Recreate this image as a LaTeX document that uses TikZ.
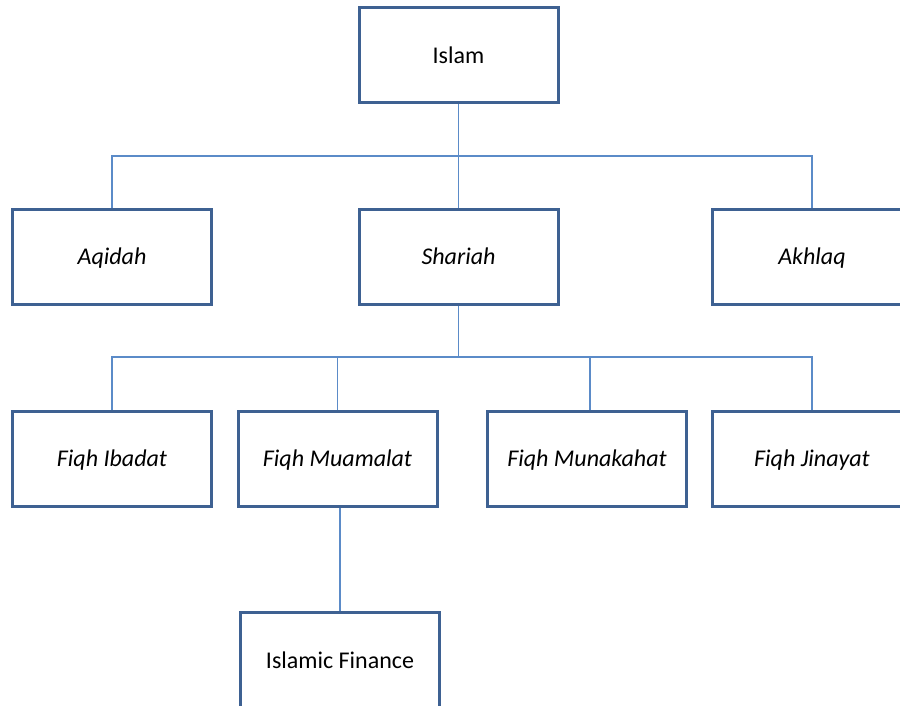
\documentclass[tikz,border=0pt]{standalone}
\usepackage{fontspec}
\setmainfont{Carlito}
\usetikzlibrary{backgrounds}
\definecolor{boxblue}{HTML}{3E6192}
\definecolor{linkblue}{HTML}{5B8BC8}
\tikzset{
  orgbox/.style={draw=boxblue, line width=3pt, rectangle, minimum width=199pt, minimum height=95pt, inner sep=0pt, font=\fontsize{24}{28}\selectfont, text height=21pt, text depth=5pt, fill=white},
  link/.style={draw=linkblue, line width=1.2pt}
}
\begin{document}
\begin{tikzpicture}[x=1pt,y=-1pt]
\useasboundingbox (0,0) rectangle (900,706);
\clip (0,0) rectangle (900,706);
\node[orgbox] (islam) at (458.5,55.5) {Islam};
\node[orgbox] (aqidah) at (112,256.5) {\itshape Aqidah};
\node[orgbox] (shariah) at (458.5,256.5) {\itshape Shariah};
\node[orgbox] (akhlaq) at (812,256.5) {\itshape Akhlaq};
\node[orgbox] (ibadat) at (112,458.5) {\itshape Fiqh Ibadat};
\node[orgbox] (muamalat) at (337.5,458.5) {\itshape Fiqh Muamalat};
\node[orgbox] (munakahat) at (587,458.5) {\itshape Fiqh Munakahat};
\node[orgbox] (jinayat) at (812,458.5) {\itshape Fiqh Jinayat};
\node[orgbox] (finance) at (340,660) {Islamic Finance};
\coordinate (b1) at (458.5,156);
\coordinate (b2) at (458.5,357);
\begin{scope}[on background layer]
\draw[link] (islam.south) -- (b1);
\draw[link] (b1) -- (shariah.north);
\draw[link] (b1) -| (aqidah.north);
\draw[link] (b1) -| (akhlaq.north);
\draw[link] (shariah.south) -- (b2);
\draw[link] (b2) -| (ibadat.north);
\draw[link] (b2) -| (muamalat.north);
\draw[link] (b2) -| ([xshift=3pt]munakahat.north);
\draw[link] (b2) -| (jinayat.north);
\draw[link] (finance.north) -- (finance.north |- muamalat.south);
\end{scope}
\end{tikzpicture}
\end{document}
